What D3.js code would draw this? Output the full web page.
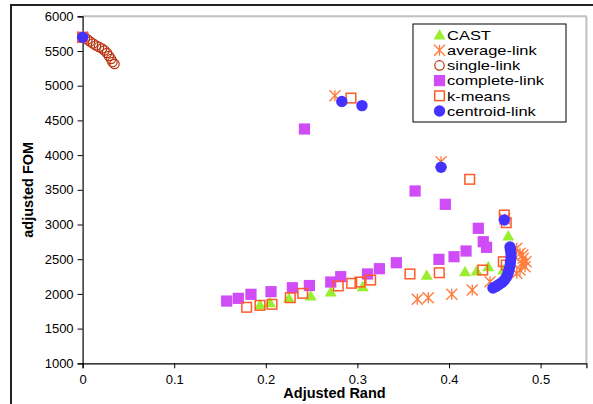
<!DOCTYPE html>
<html>
<head>
<meta charset="utf-8">
<script src="https://cdn.jsdelivr.net/npm/d3@7/dist/d3.min.js"></script>
<style>
  html, body { margin: 0; padding: 0; background: #fff; }
  svg { display: block; font-family: Arial, "Liberation Sans", sans-serif; }
</style>
</head>
<body>
<svg id="chart" width="593" height="404"></svg>
<script>
// Axis ticks
const xTicks = [0, 0.1, 0.2, 0.3, 0.4, 0.5];
const yTicks = [1000, 1500, 2000, 2500, 3000, 3500, 4000, 4500, 5000, 5500, 6000];

// Series: [Adjusted Rand, adjusted FOM]
const castPts = [
  [0.1937, 1840], [0.2046, 1873], [0.2253, 1936], [0.249, 1970], [0.2709, 2027],
  [0.3058, 2104], [0.3757, 2268], [0.4175, 2320], [0.4302, 2330], [0.4429, 2392],
  [0.4593, 2344], [0.4647, 2834]
];
const averagePts = [
  [0.0, 5697], [0.2755, 4856], [0.3913, 3905], [0.461, 3080],
  [0.3654, 1922], [0.3774, 1945], [0.403, 1994], [0.4254, 2056], [0.4448, 2176],
  [0.474, 2657], [0.4775, 2585], [0.4805, 2560], [0.481, 2513], [0.484, 2464],
  [0.4794, 2441], [0.483, 2392], [0.4775, 2344], [0.474, 2297]
];
const singlePts = [
  [0.0026, 5694], [0.0053, 5666], [0.0081, 5637], [0.0114, 5608], [0.0146, 5579],
  [0.0179, 5558], [0.0212, 5536], [0.0239, 5507], [0.0266, 5471], [0.0288, 5428],
  [0.031, 5385], [0.0326, 5341], [0.0348, 5313]
];
const completePts = [
  [0.0, 5697], [0.2422, 4376], [0.363, 3483], [0.396, 3291], [0.432, 2945],
  [0.4374, 2752], [0.441, 2671], [0.4186, 2618], [0.4055, 2536], [0.389, 2498],
  [0.3425, 2449], [0.324, 2363], [0.311, 2287], [0.2818, 2248], [0.2709, 2171],
  [0.2476, 2121], [0.229, 2089], [0.2057, 2032], [0.1838, 1994], [0.170, 1936],
  [0.1573, 1897]
];
const kmeansPts = [
  [0.0, 5697], [0.293, 4822], [0.4226, 3651], [0.4604, 3137], [0.4625, 3026],
  [0.4593, 2464], [0.4625, 2416], [0.4368, 2344], [0.3894, 2305], [0.3574, 2287],
  [0.3145, 2200], [0.3028, 2171], [0.2938, 2153], [0.2791, 2114], [0.2403, 2008],
  [0.2267, 1945], [0.2068, 1850], [0.1937, 1835], [0.1791, 1807]
];
const centroidPts = [
  [0.0, 5697], [0.283, 4772], [0.305, 4713], [0.3913, 3824], [0.4604, 3065],
  [0.448, 2085], [0.4513, 2106], [0.4546, 2135], [0.4579, 2164], [0.4606, 2200],
  [0.4628, 2243], [0.4644, 2294], [0.4655, 2344], [0.4666, 2402], [0.4671, 2459],
  [0.4677, 2517], [0.4677, 2575], [0.4671, 2632], [0.4666, 2676]
];

const legendNames = ["CAST", "average-link", "single-link", "complete-link", "k-means", "centroid-link"];

const svg = d3.select("#chart");
const W = 593, H = 404;
const plotL = 82.6, plotR = 586.4, plotT = 16.3, plotB = 363.3;

const x = d3.scaleLinear().domain([0, 0.55]).range([plotL, plotR]);
const y = d3.scaleLinear().domain([1000, 6000]).range([plotB, plotT]);

// chart frame
svg.append("rect").attr("x", 11).attr("y", 5).attr("width", W).attr("height", H)
  .attr("fill", "none").attr("stroke", "#222").attr("stroke-width", 2);

// plot area border (top and right)
svg.append("line").attr("x1", plotL).attr("x2", plotR).attr("y1", plotT).attr("y2", plotT)
  .attr("stroke", "#c0c0c0").attr("stroke-width", 2);
svg.append("line").attr("x1", plotR).attr("x2", plotR).attr("y1", plotT).attr("y2", plotB)
  .attr("stroke", "#c0c0c0").attr("stroke-width", 2);

// axes
const xAxis = d3.axisBottom(x).tickValues(xTicks).tickSize(5).tickPadding(6)
  .tickFormat(d => d === 0 ? "0" : d3.format(".1f")(d));
const yAxis = d3.axisLeft(y).tickValues(yTicks).tickSize(5).tickPadding(4)
  .tickFormat(d3.format("d"));

const gx = svg.append("g").attr("transform", `translate(0,${plotB})`).call(xAxis);
const gy = svg.append("g").attr("transform", `translate(${plotL},0)`).call(yAxis);
[gx, gy].forEach(g => {
  g.select(".domain").attr("stroke", "#000").attr("stroke-width", 1.2);
  g.selectAll(".tick line").attr("stroke", "#000");
  g.selectAll(".tick text").attr("fill", "#000").style("font-size", "13px")
    .style("font-family", "Arial, 'Liberation Sans', sans-serif");
});

// axis titles
svg.append("text").attr("x", (plotL + plotR) / 2).attr("y", 398)
  .attr("text-anchor", "middle").style("font-size", "14.5px").style("font-weight", "bold")
  .text("Adjusted Rand");
svg.append("text").attr("transform", `translate(33,${(plotT + plotB) / 2}) rotate(-90)`)
  .attr("text-anchor", "middle").style("font-size", "14.5px").style("font-weight", "bold")
  .text("adjusted FOM");

// marker drawers
const tri = d3.symbol().type(d3.symbolTriangle).size(62);
const sty = {
  cast: { fill: "#99ee2e" },
  avg: { stroke: "#ff7a3a" },
  single: { stroke: "#b8300c" },
  complete: { fill: "#d04cf6" },
  kmeans: { stroke: "#ff5a26" },
  centroid: { fill: "#4433ff" }
};

function drawTriangle(g, cx, cy) {
  g.append("path").attr("d", tri()).attr("transform", `translate(${cx},${cy + 1})`)
    .attr("fill", sty.cast.fill);
}
function drawStar(g, cx, cy) {
  const r = 5.5;
  const p = `M${cx - r},${cy - r}L${cx + r},${cy + r}M${cx - r},${cy + r}L${cx + r},${cy - r}M${cx},${cy - r}L${cx},${cy + r}`;
  g.append("path").attr("d", p).attr("stroke", sty.avg.stroke).attr("stroke-width", 1.3).attr("fill", "none");
}
function drawOpenCircle(g, cx, cy) {
  g.append("circle").attr("cx", cx).attr("cy", cy).attr("r", 4.7)
    .attr("fill", "none").attr("stroke", sty.single.stroke).attr("stroke-width", 1.2);
}
function drawSquare(g, cx, cy) {
  g.append("rect").attr("x", cx - 5.6).attr("y", cy - 5.6).attr("width", 11.2).attr("height", 11.2)
    .attr("fill", sty.complete.fill);
}
function drawOpenSquare(g, cx, cy) {
  g.append("rect").attr("x", cx - 4.8).attr("y", cy - 4.8).attr("width", 9.6).attr("height", 9.6)
    .attr("fill", "none").attr("stroke", sty.kmeans.stroke).attr("stroke-width", 1.5);
}
function drawDot(g, cx, cy) {
  g.append("circle").attr("cx", cx).attr("cy", cy).attr("r", 5.7).attr("fill", sty.centroid.fill);
}

const series = [
  { pts: castPts, draw: drawTriangle },
  { pts: averagePts, draw: drawStar },
  { pts: singlePts, draw: drawOpenCircle },
  { pts: completePts, draw: drawSquare },
  { pts: kmeansPts, draw: drawOpenSquare },
  { pts: centroidPts, draw: drawDot }
];

const plot = svg.append("g");
series.forEach(s => {
  const g = plot.append("g");
  s.pts.forEach(([a, b]) => s.draw(g, x(a), y(b)));
});

// legend (text widened to fill the box)
const lg = svg.append("g");
lg.append("rect").attr("x", 413).attr("y", 24).attr("width", 153).attr("height", 98)
  .attr("fill", "#fff").attr("stroke", "#000").attr("stroke-width", 1);
legendNames.forEach((name, i) => {
  const cy = 35 + i * 15.2;
  const g = lg.append("g");
  series[i].draw(g, 439.5, cy);
  const t = g.append("text").attr("x", 447).attr("y", cy).attr("dy", "0.36em")
    .style("font-size", "13.5px").text(name);
  const w = t.node().getComputedTextLength();
  t.attr("textLength", w * 1.22).attr("lengthAdjust", "spacingAndGlyphs");
});
</script>
</body>
</html>
